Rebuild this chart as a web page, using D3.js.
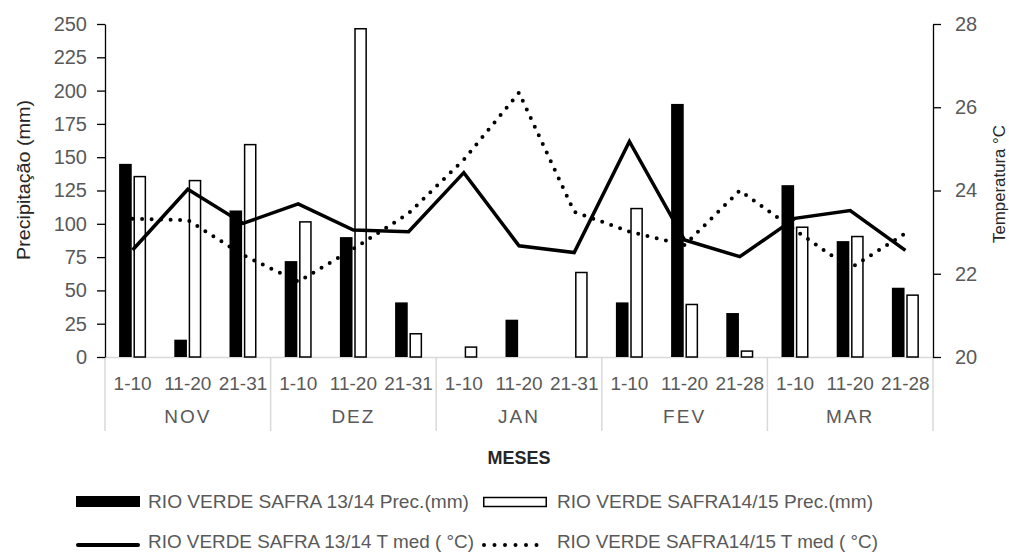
<!DOCTYPE html>
<html>
<head>
<meta charset="utf-8">
<script src="https://cdn.jsdelivr.net/npm/d3@7"></script>
<style>
  html, body { margin: 0; padding: 0; background: #fff; }
  svg { display: block; }
  text { font-family: "Liberation Sans", Arial, sans-serif; }
</style>
</head>
<body>
<svg id="chart" width="1009" height="554"></svg>
<script>
const periods = ["1-10","11-20","21-31","1-10","11-20","21-31","1-10","11-20","21-31","1-10","11-20","21-28","1-10","11-20","21-28"];
const months = ["NOV","DEZ","JAN","FEV","MAR"];
const prec1314 = [145,13,110,72,90,41,0,28,0,41,190,33,129,87,52];
const prec1415 = [136,133,160,102,247,18,8,0,64,112,40,5,98,91,47];
const temp1314 = [22.57,24.03,23.21,23.68,23.05,23.01,24.43,22.67,22.51,25.18,22.81,22.41,23.33,23.52,22.56];
const temp1415 = [23.32,23.29,22.45,21.81,22.60,23.45,24.74,26.35,23.49,23.01,22.69,24.00,23.05,22.13,22.97];
const precTicks = [0,25,50,75,100,125,150,175,200,225,250];
const tempTicks = [20,22,24,26,28];
const legendLabels = [
  "RIO VERDE SAFRA 13/14 Prec.(mm)",
  "RIO VERDE SAFRA14/15 Prec.(mm)",
  "RIO VERDE SAFRA 13/14 T med ( °C)",
  "RIO VERDE SAFRA14/15 T med ( °C)"
];

const svg = d3.select("#chart");
const L = 105, R = 933, T = 24, B = 357;
const idx = d3.range(periods.length);
const x = d3.scaleBand().domain(idx).range([L, R]).paddingInner(0).paddingOuter(0);
const cx = i => x(i) + x.bandwidth() / 2;
const yL = d3.scaleLinear().domain([0, 250]).range([B, T]);
const yR = d3.scaleLinear().domain([20, 28]).range([B, T]);
const sub = d3.scaleBand().domain(["a","b"]).range([-13.5, 13.5]).paddingInner(0.12);

const tickColor = "#595959";
const gridGray = "#d9d9d9";

// category separators and baseline
const g = svg.append("g");
g.append("line").attr("x1", L).attr("x2", R).attr("y1", B + 0.5).attr("y2", B + 0.5)
  .attr("stroke", gridGray).attr("stroke-width", 1.5);
const monthEdges = d3.range(months.length + 1).map(m => m === months.length ? R : x(m * 3));
g.selectAll("line.sep").data(monthEdges).join("line")
  .attr("class", "sep")
  .attr("x1", d => d).attr("x2", d => d)
  .attr("y1", B).attr("y2", 431)
  .attr("stroke", gridGray).attr("stroke-width", 1.5);

// bars
g.selectAll("rect.b1").data(prec1314).join("rect")
  .attr("class", "b1")
  .attr("x", (d, i) => cx(i) + sub("a"))
  .attr("width", sub.bandwidth())
  .attr("y", d => yL(d))
  .attr("height", d => yL(0) - yL(d))
  .attr("fill", "#000");
g.selectAll("rect.b2").data(prec1415).join("rect")
  .attr("class", "b2")
  .attr("x", (d, i) => cx(i) + sub("b") + 0.75)
  .attr("width", sub.bandwidth() - 1.5)
  .attr("y", d => yL(d) + 0.75)
  .attr("height", d => Math.max(0, yL(0) - yL(d) - 0.75))
  .attr("fill", d => d > 0 ? "#fff" : "none")
  .attr("stroke", d => d > 0 ? "#000" : "none")
  .attr("stroke-width", 1.5);

// lines
const line1 = d3.line().x((d, i) => cx(i)).y(d => yR(d));
g.append("path").datum(temp1314).attr("d", line1)
  .attr("fill", "none").attr("stroke", "#000").attr("stroke-width", 3.5)
  .attr("stroke-linejoin", "miter");
g.append("path").datum(temp1415).attr("d", line1)
  .attr("fill", "none").attr("stroke", "#000").attr("stroke-width", 4)
  .attr("stroke-linecap", "round").attr("stroke-dasharray", "0 9.5");

// left axis
const axL = svg.append("g").attr("transform", `translate(${L},0)`)
  .call(d3.axisLeft(yL).tickValues(precTicks).tickSize(8).tickPadding(10).tickSizeOuter(0));
axL.select(".domain").attr("stroke", "#000").attr("stroke-width", 1.3);
axL.selectAll(".tick line").attr("stroke", "#000").attr("stroke-width", 1.3);
axL.selectAll(".tick text").attr("fill", tickColor).attr("font-size", 20)
  .attr("font-family", "Liberation Sans, Arial, sans-serif");

// right axis
const axR = svg.append("g").attr("transform", `translate(${R},0)`)
  .call(d3.axisRight(yR).tickValues(tempTicks).tickSize(8).tickPadding(14).tickSizeOuter(0));
axR.select(".domain").attr("stroke", "#000").attr("stroke-width", 1.3);
axR.selectAll(".tick line").attr("stroke", "#000").attr("stroke-width", 1.3);
axR.selectAll(".tick text").attr("fill", tickColor).attr("font-size", 20)
  .attr("font-family", "Liberation Sans, Arial, sans-serif");

// category labels
svg.append("g").selectAll("text").data(periods).join("text")
  .attr("x", (d, i) => cx(i)).attr("y", 390)
  .attr("text-anchor", "middle").attr("font-size", 19).attr("fill", tickColor)
  .text(d => d);
svg.append("g").selectAll("text").data(months).join("text")
  .attr("x", (d, m) => (monthEdges[m] + monthEdges[m + 1]) / 2).attr("y", 423)
  .attr("text-anchor", "middle").attr("font-size", 19).attr("letter-spacing", 2)
  .attr("fill", tickColor).text(d => d);

// axis titles
svg.append("text").attr("x", 519).attr("y", 464).attr("text-anchor", "middle")
  .attr("font-size", 18).attr("fill", "#262626").attr("font-weight", "bold")
  .attr("textLength", 63).attr("lengthAdjust", "spacingAndGlyphs").text("MESES");
svg.append("text").attr("transform", "translate(30,180) rotate(-90)")
  .attr("text-anchor", "middle").attr("font-size", 19).attr("fill", "#262626")
  .attr("textLength", 160).attr("lengthAdjust", "spacingAndGlyphs")
  .text("Precipitação (mm)");
svg.append("text").attr("transform", "translate(1005,184) rotate(-90)")
  .attr("text-anchor", "middle").attr("font-size", 17).attr("fill", "#262626")
  .attr("textLength", 118).attr("lengthAdjust", "spacingAndGlyphs")
  .text("Temperatura °C");

// legend
const lg = svg.append("g");
const legendPos = [
  {sx: 76, sw: 64, tx: 148, tl: 321, y: 502},
  {sx: 483, sw: 64, tx: 557, tl: 316, y: 502},
  {sx: 76, sw: 64, tx: 148, tl: 326, y: 542},
  {sx: 482, sw: 58, tx: 557, tl: 321, y: 542}
];
// swatch 1: black rect
lg.append("rect").attr("x", legendPos[0].sx).attr("y", legendPos[0].y - 6)
  .attr("width", legendPos[0].sw).attr("height", 11).attr("fill", "#000");
// swatch 2: white rect
lg.append("rect").attr("x", legendPos[1].sx + 0.75).attr("y", legendPos[1].y - 4.5)
  .attr("width", legendPos[1].sw - 1.5).attr("height", 9).attr("fill", "#fff")
  .attr("stroke", "#000").attr("stroke-width", 1.5);
// swatch 3: solid line
lg.append("line").attr("x1", legendPos[2].sx + 2).attr("x2", legendPos[2].sx + legendPos[2].sw - 2)
  .attr("y1", legendPos[2].y + 3).attr("y2", legendPos[2].y + 3)
  .attr("stroke", "#000").attr("stroke-width", 4).attr("stroke-linecap", "round");
// swatch 4: dotted line
lg.append("line").attr("x1", legendPos[3].sx + 2).attr("x2", legendPos[3].sx + legendPos[3].sw)
  .attr("y1", legendPos[3].y + 3).attr("y2", legendPos[3].y + 3)
  .attr("stroke", "#000").attr("stroke-width", 4).attr("stroke-linecap", "round")
  .attr("stroke-dasharray", "0 10.5");
lg.selectAll("text").data(legendLabels).join("text")
  .attr("x", (d, i) => legendPos[i].tx)
  .attr("y", (d, i) => legendPos[i].y + 6)
  .attr("font-size", 19).attr("fill", tickColor)
  .attr("textLength", (d, i) => legendPos[i].tl)
  .attr("lengthAdjust", "spacingAndGlyphs")
  .text(d => d);
</script>
</body>
</html>
